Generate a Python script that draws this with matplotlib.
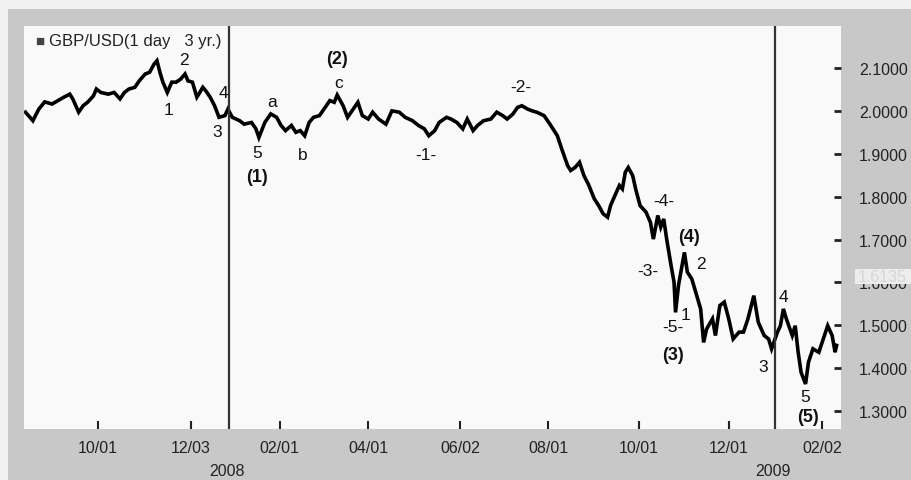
import numpy as np
import matplotlib
matplotlib.use("Agg")
import matplotlib.pyplot as plt
import matplotlib.dates as mdates
from matplotlib.patches import Rectangle

plt.rcParams['font.family'] = ['Liberation Sans', 'DejaVu Sans']

# daily close (days counted from 2007-08-13)
start = np.datetime64('2007-08-13')
day_offsets = [0, 5, 9, 13, 18, 22, 26, 30, 32, 36, 39, 42, 46, 48, 51, 56, 60, 64, 67, 70,
               74, 77, 81, 84, 87, 89, 91, 93, 95, 96, 99, 102, 105, 108, 110, 113, 116, 118,
               120, 122, 125, 128, 131, 135, 137, 140, 145,
               148, 153, 156, 158, 162, 166, 170, 173, 176, 180, 183, 186, 189, 192, 195, 199,
               202, 206, 209, 211, 215, 218, 221, 225, 228, 232, 235, 239, 244, 248, 253, 257,
               262, 266, 270, 273, 277, 280, 285, 288, 292, 296, 299, 303, 306, 310, 315, 319,
               323, 326, 330, 333, 336, 340, 343, 346, 351,
               355, 360, 363, 367, 369, 372, 375, 378, 381, 385, 388, 391, 394, 396, 398, 402,
               404, 406, 408, 411, 413, 416, 420, 423, 425, 428, 430, 432, 434, 437, 439, 440,
               442,
               446, 448, 451, 453, 457, 459, 461, 465, 467, 470, 473, 476, 479, 483, 486, 489,
               493, 496, 500, 503, 505, 509, 511, 513, 515, 519, 521, 523, 525, 528, 530, 533,
               537, 540, 543, 546, 548, 549]
gbp_usd = [1.997, 1.977, 2.004, 2.021, 2.016, 2.024, 2.032, 2.039, 2.028, 1.997, 2.012, 2.020,
           2.035, 2.051, 2.043, 2.039, 2.043, 2.028, 2.043, 2.051, 2.055, 2.070, 2.086, 2.090,
           2.109, 2.117, 2.090, 2.067, 2.051, 2.043, 2.067, 2.067, 2.074, 2.086, 2.070, 2.067,
           2.032, 2.043, 2.055, 2.047, 2.032, 2.012, 1.985, 1.989, 2.004, 1.985, 1.977,
           1.969, 1.973, 1.958, 1.938, 1.973, 1.993, 1.985, 1.966, 1.954, 1.966, 1.950, 1.954,
           1.942, 1.973, 1.985, 1.989, 2.004, 2.024, 2.020, 2.037, 2.012, 1.985, 2.000, 2.020,
           1.989, 1.981, 1.997, 1.981, 1.969, 2.000, 1.997, 1.985, 1.977, 1.966, 1.958, 1.942,
           1.954, 1.973, 1.985, 1.981, 1.973, 1.958, 1.981, 1.954, 1.966, 1.977, 1.981, 1.997,
           1.989, 1.981, 1.993, 2.008, 2.012, 2.004, 2.000, 1.997, 1.989,
           1.969, 1.942, 1.911, 1.872, 1.861, 1.868, 1.880, 1.849, 1.829, 1.795, 1.779, 1.760,
           1.752, 1.779, 1.795, 1.826, 1.818, 1.857, 1.868, 1.849, 1.818, 1.779, 1.764, 1.740,
           1.701, 1.756, 1.729, 1.748, 1.701, 1.639, 1.600, 1.530, 1.593,
           1.670, 1.624, 1.608, 1.585, 1.538, 1.460, 1.491, 1.515, 1.476, 1.546, 1.554, 1.515,
           1.468, 1.484, 1.484, 1.515, 1.569, 1.507, 1.476, 1.468, 1.445, 1.484, 1.499, 1.538,
           1.515, 1.476, 1.499, 1.437, 1.390, 1.363, 1.414, 1.445, 1.437, 1.468, 1.499, 1.476,
           1.437, 1.453]

tick_dates = ['2007-10-01', '2007-12-03', '2008-02-01', '2008-04-01', '2008-06-02',
              '2008-08-01', '2008-10-01', '2008-12-01', '2009-02-02']
y_ticks = [1.3, 1.4, 1.5, 1.6, 1.7, 1.8, 1.9, 2.0, 2.1]
year_lines = ['2007-12-29', '2009-01-01']   # where the year separators sit on the chart
year_labels = ['2008', '2009']
last_price = 1.6135

# wave labels: (text, day offset, price, bold)
wave_labels = [('1', 97, 2.004, False), ('2', 107, 2.121, False), ('3', 130, 1.951, False),
               ('4', 134, 2.042, False), ('a', 167, 2.021, False), ('5', 157, 1.902, False),
               ('(1)', 157, 1.848, True), ('b', 188, 1.899, False), ('(2)', 211, 2.123, True),
               ('c', 212, 2.067, False), ('-1-', 271, 1.899, False), ('-2-', 335, 2.058, False),
               ('-4-', 432, 1.790, False), ('(4)', 449, 1.708, True), ('-3-', 421, 1.627, False),
               ('2', 457, 1.643, False), ('-5-', 438, 1.496, False), ('1', 447, 1.524, False),
               ('(3)', 438, 1.431, True), ('3', 499, 1.403, False), ('4', 513, 1.566, False),
               ('5', 528, 1.333, False), ('(5)', 530, 1.288, True)]

dates = start + np.array(day_offsets).astype('timedelta64[D]')

fig = plt.figure(figsize=(9.12, 4.81), dpi=100, facecolor='#f1f1f1')
frame = Rectangle((8 / 912, 0), 1, 1 - 10 / 481, transform=fig.transFigure,
                  facecolor='#c8c8c8', edgecolor='none', zorder=-10)
fig.patches.append(frame)

ax = fig.add_axes([24 / 912, 1 - 430 / 481, 817 / 912, 403 / 481])
ax.set_zorder(1)
ax.set_facecolor('#f9f9f9')
ax.plot(dates, gbp_usd, color='black', lw=2.6, solid_joinstyle='miter')

for d, lab in zip(year_lines, year_labels):
    ax.axvline(np.datetime64(d), color='#333333', lw=1.6)
    ax.annotate(lab, xy=(np.datetime64(d), 0), xycoords=('data', 'axes fraction'),
                xytext=(-2, -42), textcoords='offset pixels', ha='center', va='center',
                fontsize=11.5, color='#222222', annotation_clip=False)

for txt, d, v, bold in wave_labels:
    ax.text(start + np.timedelta64(d, 'D'), v, txt, ha='center', va='center',
            fontsize=13 if bold else 12.5, fontweight='bold' if bold else 'normal',
            color='#111111')

ax.set_xlim(start - np.timedelta64(1, 'D'), start + np.timedelta64(552, 'D'))
ax.set_ylim(1.258, 2.198)

ax.set_xticks([np.datetime64(d) for d in tick_dates])
ax.xaxis.set_major_formatter(mdates.DateFormatter('%m/%d'))
ax.yaxis.tick_right()
ax.set_yticks(y_ticks)
ax.set_yticklabels(['%.4f' % y for y in y_ticks])
ax.tick_params(axis='x', direction='in', length=6, width=1.5, pad=8, labelsize=11.5,
               colors='#222222')
ax.tick_params(axis='y', direction='in', length=5, width=2, pad=13, labelsize=11.5,
               colors='#222222')
for s in ax.spines.values():
    s.set_visible(False)

# last price marker, sits over the 1.6000 label as in the source
ytr = ax.get_yaxis_transform()
ax.add_patch(Rectangle((1.017, last_price - 0.018), 0.1, 0.036, transform=ytr,
                       facecolor='#ededed', edgecolor='none', clip_on=False, zorder=5))
ax.text(1.021, last_price, '%.4f' % last_price, transform=ytr, ha='left', va='center',
        fontsize=11.5, color='#d6d6d6', zorder=6)

# legend box
ax.text(0.014, 0.964, '\u25a0', transform=ax.transAxes, ha='left', va='center',
        fontsize=11, color='#444444')
ax.text(0.031, 0.964, 'GBP/USD(1 day   3 yr.)', transform=ax.transAxes, ha='left',
        va='center', fontsize=12, color='#222222')

fig.savefig('out.png', dpi=100, facecolor=fig.get_facecolor())
